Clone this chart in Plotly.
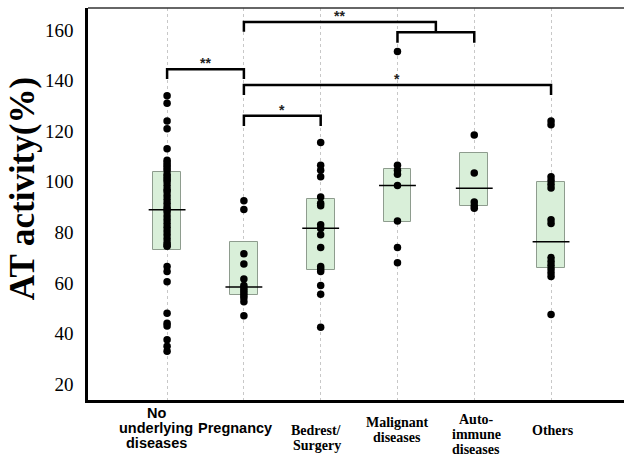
import plotly.graph_objects as go

categories = ["No<br>underlying<br>diseases", "Pregnancy", "Bedrest/<br>Surgery",
              "Malignant<br>diseases", "Auto-<br>immune<br>diseases", "Others"]
label_fonts = ["Liberation Sans", "Liberation Sans", "Liberation Serif",
               "Liberation Serif", "Liberation Serif", "Liberation Serif"]
label_xshift = [-11, -9, -4, 0, 2, 2]
label_center = [428, 428, 438, 430, 434, 430]

g_none = [134, 131, 124, 121, 113,
          108.5, 107.5, 106.5, 105.5, 104.5, 103, 102, 101, 100, 98.5, 97, 96,
          94.5, 93, 91.5, 90, 89, 88, 86.5, 85, 83.5, 82, 80.5, 79, 77.5, 76, 75, 74.5,
          66.5, 64.5, 60.5, 48, 44, 43, 37.5, 35, 33]
g_preg = [92.5, 89, 71.5, 67.5, 61.5, 59, 58, 57, 56, 55, 54, 52.5, 47]
g_bed = [115.5, 106.5, 104.5, 102, 94, 91.5, 90.5, 83, 81.5, 79, 74, 66.5, 65.5,
         64.5, 59, 55.5, 42.5]
g_mal = [151.5, 106.5, 104.5, 103, 98.5, 84.5, 74, 68]
g_auto = [118.5, 103.5, 92, 90.5, 89.5]
g_oth = [124, 122.5, 102, 100.5, 99, 97.5, 85, 83.5, 70, 68.5, 67, 65.5, 64, 62.5, 47.5]
groups = [g_none, g_preg, g_bed, g_mal, g_auto, g_oth]

q1 = [73, 55.3, 65.1, 84.2, 90.5, 65.8]
median = [88.9, 58.4, 81.6, 98.5, 97.4, 76.3]
q3 = [104, 76, 93.1, 105, 111.2, 100]

# brackets: (left index, right index, y level, left drop, right drop, label)
brackets = [
    (0, 1, 144.5, 140.6, 140.6, "**"),
    (1, 2, 126.1, 122.0, 122.0, "*"),
    (1, 5, 138.3, 134.3, 134.3, "*"),
    (3, 4, 159.1, 155.0, 155.0, None),
    (1, 3.5, 163.2, 159.3, 159.1, "**"),
]

yticks = [20, 40, 60, 80, 100, 120, 140, 160]

H = 458
MT, MB = 8, 58
plot_bottom = H - MB

fig = go.Figure()

idx = list(range(len(categories)))
fig.add_trace(go.Bar(
    x=idx, base=q1, y=[b - a for a, b in zip(q1, q3)], width=0.36,
    marker=dict(color="#d9efd9", line=dict(color="#8e9c8e", width=1)),
    hoverinfo="skip", showlegend=False))

mx, my = [], []
for i, m in enumerate(median):
    mx += [i - 0.24, i + 0.24, None]
    my += [m, m, None]
fig.add_trace(go.Scatter(x=mx, y=my, mode="lines", line=dict(color="black", width=1.6),
                         showlegend=False, hoverinfo="skip"))

px, py = [], []
for i, g in enumerate(groups):
    px += [i] * len(g)
    py += g
fig.add_trace(go.Scatter(x=px, y=py, mode="markers",
                         marker=dict(color="black", size=7.5), showlegend=False))

for a, b, y, da, db, lab in brackets:
    fig.add_shape(type="path",
                  path=f"M {a} {da} L {a} {y} L {b} {y} L {b} {db}",
                  line=dict(color="black", width=2.5), xref="x", yref="y")
    if lab:
        fig.add_annotation(x=(a + b) / 2, y=y, text=f"<b>{lab}</b>", showarrow=False,
                           yanchor="bottom", yshift=-4,
                           font=dict(family="Liberation Sans", size=14, color="#222222"))

LINE = 15
for i, (c, f) in enumerate(zip(categories, label_fonts)):
    lines = c.split("<br>")
    n = len(lines)
    for k, ln in enumerate(lines):
        ypix = label_center[i] + (k - (n - 1) / 2) * LINE
        fig.add_annotation(x=i, y=0, yref="paper", text=f"<b>{ln}</b>", showarrow=False,
                           yanchor="middle", yshift=plot_bottom - ypix,
                           xshift=label_xshift[i], borderpad=0,
                           font=dict(family=f, size=14.5 if "Sans" in f else 14, color="black"))

fig.add_annotation(x=-0.123, xref="paper", y=0.538, yref="paper", text="<b>AT activity(%)</b>",
                   textangle=-90, showarrow=False, xanchor="center", yanchor="middle",
                   font=dict(family="Liberation Serif", size=35, color="black"))

fig.add_shape(type="line", xref="paper", yref="paper", x0=0, x1=1, y0=1, y1=1,
              line=dict(color="#333333", width=1.5))

fig.update_layout(
    width=624, height=H,
    margin=dict(l=88, r=0, t=MT, b=MB),
    plot_bgcolor="white", paper_bgcolor="white",
    bargap=0,
    xaxis=dict(range=[-1.03, 5.95], tickvals=idx, showticklabels=False,
               showgrid=True, gridcolor="#c8c8c8", griddash="dot", gridwidth=1,
               zeroline=False, showline=True, linecolor="black", linewidth=3, ticks=""),
    yaxis=dict(range=[13.7, 168.7], tickvals=yticks, showgrid=False, zeroline=False,
               showline=True, linecolor="black", linewidth=2.5, ticks="",
               ticklabelstandoff=8,
               tickfont=dict(family="Liberation Serif", size=19, color="black")),
)

fig.write_html("out.html")
